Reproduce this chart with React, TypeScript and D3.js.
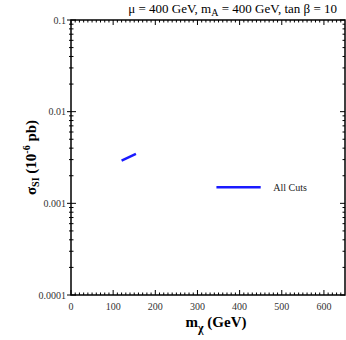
import React from 'react';
import * as d3 from 'd3';

// curve (GeV, 10^-6 pb)
const massPoints = [120, 154];
const sigmaPoints = [0.00292, 0.00346];
const xTicks = [0, 100, 200, 300, 400, 500, 600];
const yTicks = [0.0001, 0.001, 0.01, 0.1];
const yTickLabels = ['0.0001', '0.001', '0.01', '0.1'];
const legendLabel = 'All Cuts';

const W = 346;
const H = 340;
const m = { left: 71, right: 345, top: 20, bottom: 295 };

const App = () => {
  const x = d3.scaleLinear().domain([0, 650]).range([m.left, m.right]);
  const y = d3.scaleLog().domain([0.0001, 0.1]).range([m.bottom, m.top]);

  const line = d3.line<number>()
    .x((d) => x(d))
    .y((d, i) => y(sigmaPoints[i]));

  // minor ticks every 10 GeV, and 2..9 per decade
  const xMinor = d3.range(10, 650, 10).filter((v) => v % 100 !== 0);
  const yMinor: number[] = [];
  [0.0001, 0.001, 0.01].forEach((dec) => {
    for (let k = 2; k <= 9; k++) yMinor.push(dec * k);
  });

  const font = '"Liberation Serif", "DejaVu Serif", serif';
  const blue = '#1a1aff';

  return (
    <svg width={W} height={H} style={{ position: 'absolute', left: 0, top: 0, background: 'white' }}
      fontFamily={font}>
      <rect x={m.left} y={m.top} width={m.right - m.left} height={m.bottom - m.top}
        fill="none" stroke="black" strokeWidth={1.5} />

      {/* x ticks, bottom and top */}
      {xTicks.map((t) => (
        <g key={'xt' + t}>
          <line x1={x(t)} x2={x(t)} y1={m.bottom} y2={m.bottom - 5} stroke="black" />
          <line x1={x(t)} x2={x(t)} y1={m.top} y2={m.top + 5} stroke="black" />
          <text x={x(t)} y={m.bottom + 15} textAnchor="middle" fontSize={10} fill="#333">{t}</text>
        </g>
      ))}
      {xMinor.map((t) => (
        <g key={'xm' + t}>
          <line x1={x(t)} x2={x(t)} y1={m.bottom} y2={m.bottom - 2.5} stroke="black" />
          <line x1={x(t)} x2={x(t)} y1={m.top} y2={m.top + 2.5} stroke="black" />
        </g>
      ))}

      {/* y ticks, left and right */}
      {yTicks.map((t, i) => (
        <g key={'yt' + t}>
          <line x1={m.left - 4} x2={m.left + 5} y1={y(t)} y2={y(t)} stroke="black" />
          <line x1={m.right} x2={m.right - 5} y1={y(t)} y2={y(t)} stroke="black" />
          <text x={m.left - 5} y={y(t) + 3.5} textAnchor="end" fontSize={10} fill="#333">{yTickLabels[i]}</text>
        </g>
      ))}
      {yMinor.map((t) => (
        <g key={'ym' + t}>
          <line x1={m.left - 2} x2={m.left + 2.5} y1={y(t)} y2={y(t)} stroke="black" />
          <line x1={m.right} x2={m.right - 2.5} y1={y(t)} y2={y(t)} stroke="black" />
        </g>
      ))}

      {/* data */}
      <path d={line(massPoints) || ''} fill="none" stroke={blue} strokeWidth={2.5} />

      {/* legend */}
      <line x1={x(345)} x2={x(450)} y1={y(0.0015)} y2={y(0.0015)} stroke={blue} strokeWidth={2.5} />
      <text x={x(480)} y={y(0.0015) + 3.5} fontSize={10} fill="#222">{legendLabel}</text>

      {/* title */}
      <text x={337} y={13} textAnchor="end" fontSize={13}>
        μ = 400 GeV, m<tspan dy={3} fontSize={10}>A</tspan><tspan dy={-3}> = 400 GeV, tan β = 10</tspan>
      </text>

      {/* axis titles */}
      <text x={216} y={327} textAnchor="middle" fontSize={15} fontWeight="bold">
        m<tspan dy={5} fontSize={12}>χ</tspan><tspan dy={-5}> (GeV)</tspan>
      </text>
      <text transform={`translate(36,${(m.top + m.bottom) / 2}) rotate(-90)`} textAnchor="middle"
        fontSize={15} fontWeight="bold">
        σ<tspan dy={3} fontSize={10}>SI</tspan><tspan dy={-3}> (10</tspan>
        <tspan dy={-6} fontSize={10}>-6</tspan><tspan dy={6}> pb)</tspan>
      </text>
    </svg>
  );
};

export default App;
